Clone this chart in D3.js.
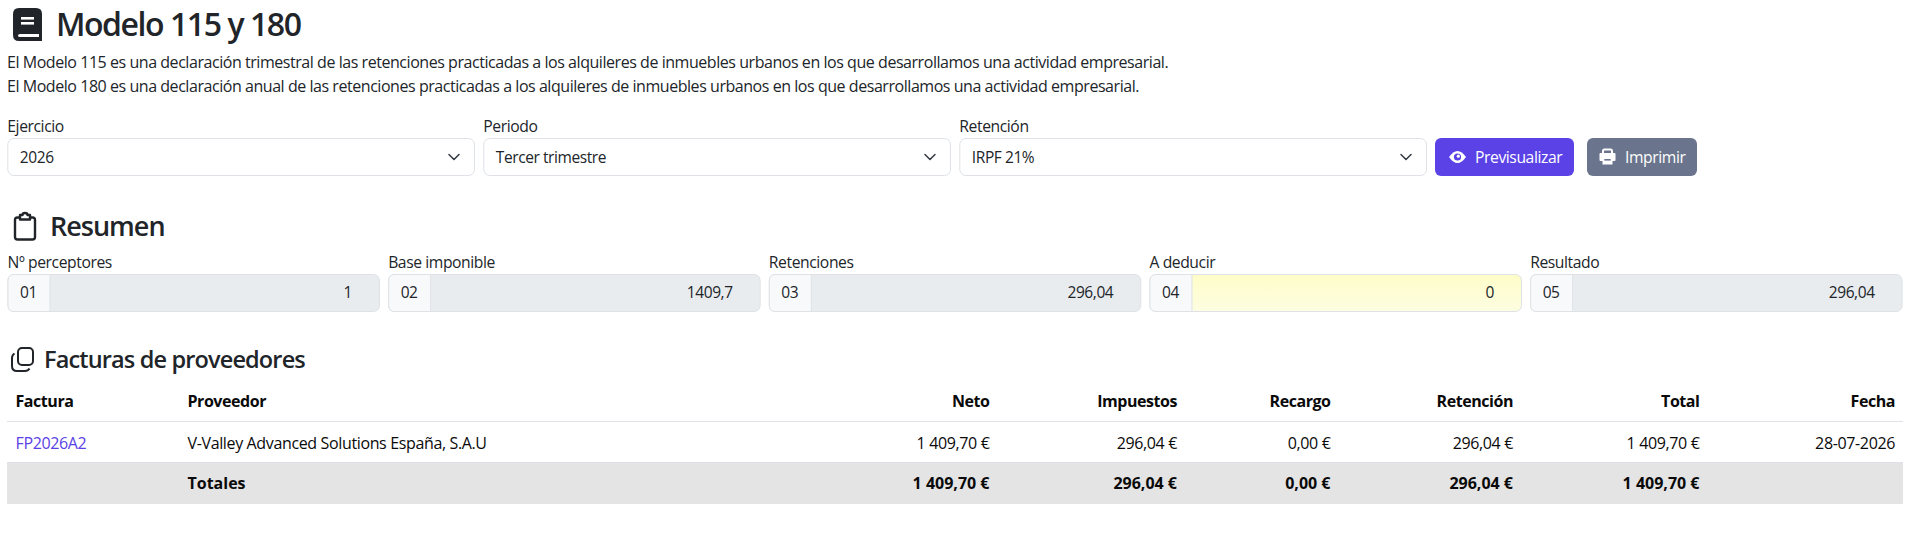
<!DOCTYPE html>
<html lang="es">
<head>
<meta charset="utf-8">
<title>Modelo 115 y 180</title>
<script src="https://cdn.jsdelivr.net/npm/d3@7"></script>
<style>
  html, body { margin: 0; padding: 0; background: #fff; overflow: hidden; }
  svg { display: block; }
  text { font-family: "Open Sans", "Noto Sans", sans-serif; fill: #212529; letter-spacing: -0.42px; }
  .label { font-size: 15.7px; }
  .intro { font-size: 16px; letter-spacing: -0.45px; }
  .value { font-size: 15.5px; }
  .cell { font-size: 16px; fill: #0a0a0a; letter-spacing: -0.36px; }
  .cell.bold { font-weight: 700; letter-spacing: -0.45px; }
  .cell.total { font-weight: 700; letter-spacing: 0; }
</style>
</head>
<body>
<svg id="page" width="1908" height="535"></svg>
<script>
// values
const pageTitle = "Modelo 115 y 180";
const introLines = [
  "El Modelo 115 es una declaración trimestral de las retenciones practicadas a los alquileres de inmuebles urbanos en los que desarrollamos una actividad empresarial.",
  "El Modelo 180 es una declaración anual de las retenciones practicadas a los alquileres de inmuebles urbanos en los que desarrollamos una actividad empresarial."
];
const filterLabels = ["Ejercicio", "Periodo", "Retención"];
const filterValues = ["2026", "Tercer trimestre", "IRPF 21%"];
const summaryLabels = ["Nº perceptores", "Base imponible", "Retenciones", "A deducir", "Resultado"];
const summaryCodes = ["01", "02", "03", "04", "05"];
const summaryValues = ["1", "1409,7", "296,04", "0", "296,04"];
const columns = ["Factura", "Proveedor", "Neto", "Impuestos", "Recargo", "Retención", "Total", "Fecha"];
const invoiceRow = ["FP2026A2", "V-Valley Advanced Solutions España, S.A.U", "1 409,70 €", "296,04 €", "0,00 €", "296,04 €", "1 409,70 €", "28-07-2026"];
const totalsRow = ["", "Totales", "1 409,70 €", "296,04 €", "0,00 €", "296,04 €", "1 409,70 €", ""];

const svg = d3.select("#page");

// layout scales
const filterX = d3.scaleBand().domain(filterLabels).range([7.3, 1427]).paddingInner(0.0175);
const summaryX = d3.scaleBand().domain(summaryLabels).range([7.5, 1902.6]).paddingInner(0.0215);
const columnX = d3.scaleOrdinal().domain(columns).range([15.5, 187.5, 989.5, 1177, 1330.5, 1513, 1699.5, 1895]);
const columnAnchor = (c) => (c == "Factura" || c == "Proveedor" ? "start" : "end");

const defs = svg.append("defs");
const yellow = defs.append("linearGradient").attr("id", "yellow").attr("x1", 0).attr("x2", 0).attr("y1", 0).attr("y2", 1);
yellow.append("stop").attr("offset", "0%").attr("stop-color", "#fefdc8");
yellow.append("stop").attr("offset", "100%").attr("stop-color", "#fdfde2");

function addText(parent, x, y, str, size, weight) {
  return parent.append("text")
    .attr("x", x).attr("y", y)
    .style("font-size", size ? size + "px" : null)
    .style("font-weight", weight || null)
    .text(str);
}

// heading with book icon
const book = svg.append("g").attr("transform", "translate(13,8)");
book.append("path").attr("fill", "#212529")
  .attr("d", "M6,0 H23 Q29,0 29,6 V27 L29,33 H6 Q0,33 0,27 V6 Q0,0 6,0 Z");
book.append("path").attr("fill", "#fff")
  .attr("d", "M7,26 H26 V29 H7 Q5,29 5,27.5 Q5,26 7,26 Z");
book.selectAll("rect.bar").data([9, 14]).enter().append("rect")
  .attr("class", "bar").attr("x", 8).attr("y", (d) => d).attr("width", 13).attr("height", 2.6).attr("fill", "#fff");
addText(svg, 56, 36, pageTitle, 32, 600).style("letter-spacing", "-1.45px");

svg.selectAll("text.intro").data(introLines).enter().append("text")
  .attr("class", "intro")
  .attr("x", 7).attr("y", (d, i) => 68 + i * 24)
  .text((d) => d);

// filters
const filters = svg.selectAll("g.filter").data(filterLabels).enter().append("g")
  .attr("class", "filter")
  .attr("transform", (d) => `translate(${filterX(d)},0)`);
filters.append("text").attr("class", "label").attr("x", 0).attr("y", 132).text((d) => d);
filters.append("rect")
  .attr("x", 0.5).attr("y", 138.5).attr("rx", 6)
  .attr("width", filterX.bandwidth() - 1).attr("height", 37)
  .attr("fill", "#fff").attr("stroke", "#dee2e6");
filters.append("text").attr("class", "value").attr("x", 12.5).attr("y", 163)
  .text((d, i) => filterValues[i]);
filters.append("path")
  .attr("fill", "none").attr("stroke", "#343a40").attr("stroke-width", 1.5)
  .attr("stroke-linecap", "round").attr("stroke-linejoin", "round")
  .attr("d", `M${filterX.bandwidth() - 26},154.5 l5,5 l5,-5`);

// buttons
const buttons = svg.selectAll("g.btn")
  .data([
    { label: "Previsualizar", x: 1435, w: 139, color: "#5a42e6", textX: 40 },
    { label: "Imprimir", x: 1587, w: 110, color: "#6a748c", textX: 38 }
  ])
  .enter().append("g").attr("class", "btn")
  .attr("transform", (d) => `translate(${d.x},138)`);
buttons.append("rect").attr("rx", 6).attr("height", 38)
  .attr("width", (d) => d.w).attr("fill", (d) => d.color);
buttons.append("text").attr("class", "label").attr("x", (d) => d.textX).attr("y", 25)
  .style("fill", "#fff").text((d) => d.label);
// eye
const eye = svg.append("g").attr("transform", "translate(1457.5,157)");
eye.append("path").attr("fill", "#fff").attr("d", "M-8.5,0 Q0,-12 8.5,0 Q0,12 -8.5,0 Z");
eye.append("circle").attr("r", 3.6).attr("fill", "#5a42e6");
eye.append("circle").attr("cx", 0.8).attr("cy", -0.8).attr("r", 1.6).attr("fill", "#fff");
// printer
const printer = svg.append("g").attr("transform", "translate(1607.5,157)");
printer.append("path").attr("fill", "none").attr("stroke", "#fff").attr("stroke-width", 2)
  .attr("d", "M-4.5,-3 V-6 Q-4.5,-7.5 -3,-7.5 H3 Q4.5,-7.5 4.5,-6 V-3");
printer.append("path").attr("fill", "#fff")
  .attr("d", "M-8,-3 Q-8,-4 -7,-4 H7 Q8,-4 8,-3 V3 Q8,4 7,4 H5 V7.5 H-5 V4 H-7 Q-8,4 -8,3 Z");
printer.append("rect").attr("x", -3.2).attr("y", 2).attr("width", 6.4).attr("height", 1.6).attr("fill", "#6a748c");

// resumen
const clip = svg.append("g").attr("transform", "translate(15,217)")
  .attr("fill", "none").attr("stroke", "#212529").attr("stroke-width", 2.4).attr("stroke-linejoin", "round");
clip.append("path").attr("d", "M5,0.5 H2.5 Q0,0.5 0,3 V20 Q0,22.5 2.5,22.5 H17.5 Q20,22.5 20,20 V3 Q20,0.5 17.5,0.5 H15");
clip.append("path").attr("d", "M5,-2 H7.5 Q7.5,-4 10,-4 Q12.5,-4 12.5,-2 H15 V2.5 H5 Z");
addText(svg, 50, 236, "Resumen", 27, 600).style("letter-spacing", "-1px");

const summary = svg.selectAll("g.summary").data(summaryLabels).enter().append("g")
  .attr("class", "summary")
  .attr("transform", (d) => `translate(${summaryX(d)},0)`);
summary.append("text").attr("class", "label").attr("x", 0).attr("y", 268).text((d) => d);
summary.append("rect").attr("x", 0.5).attr("y", 274.5).attr("rx", 6)
  .attr("width", summaryX.bandwidth() - 1).attr("height", 37)
  .attr("fill", (d) => (d == "A deducir" ? "url(#yellow)" : "#e9ecef")).attr("stroke", "#dee2e6");
summary.append("path")
  .attr("d", "M42.5,274.5 H6.5 Q0.5,274.5 0.5,280.5 V305.5 Q0.5,311.5 6.5,311.5 H42.5 Z")
  .attr("fill", "#f8f9fa").attr("stroke", "#dee2e6");
summary.append("text").attr("class", "value").attr("x", 12.5).attr("y", 298)
  .text((d, i) => summaryCodes[i]);
summary.append("text").attr("class", "value").attr("text-anchor", "end")
  .attr("x", summaryX.bandwidth() - 28).attr("y", 298)
  .text((d, i) => summaryValues[i]);

// facturas
const copy = svg.append("g").attr("transform", "translate(12,348)")
  .attr("fill", "none").attr("stroke", "#212529").attr("stroke-width", 2).attr("stroke-linejoin", "round");
copy.append("rect").attr("x", 6).attr("y", 0).attr("width", 15).attr("height", 17).attr("rx", 4);
copy.append("path").attr("d", "M2.5,5.5 Q0,7 0,10 V18 Q0,23 5,23 H13 Q16,23 17.5,20.5");
addText(svg, 44, 368, "Facturas de proveedores", 23.5, 600).style("letter-spacing", "-0.85px");

// table
svg.append("rect").attr("x", 7).attr("y", 462.5).attr("width", 1896).attr("height", 41.5).attr("fill", "#e4e4e4");
svg.append("line").attr("x1", 7).attr("x2", 1903).attr("y1", 421.5).attr("y2", 421.5).attr("stroke", "#dee2e6");
svg.append("line").attr("x1", 7).attr("x2", 1903).attr("y1", 462.5).attr("y2", 462.5).attr("stroke", "#dee2e6");

const tableRows = [
  { cells: columns, y: 407, style: "cell bold" },
  { cells: invoiceRow, y: 448.5, style: "cell" },
  { cells: totalsRow, y: 489, style: "cell total" }
];
tableRows.forEach((row) => {
  svg.selectAll(null).data(row.cells).enter().append("text")
    .attr("class", row.style)
    .attr("x", (d, i) => columnX(columns[i]))
    .attr("y", row.y)
    .attr("text-anchor", (d, i) => columnAnchor(columns[i]))
    .style("fill", (d) => (d == "FP2026A2" ? "#5a42e6" : null))
    .text((d) => d);
});
</script>
</body>
</html>
